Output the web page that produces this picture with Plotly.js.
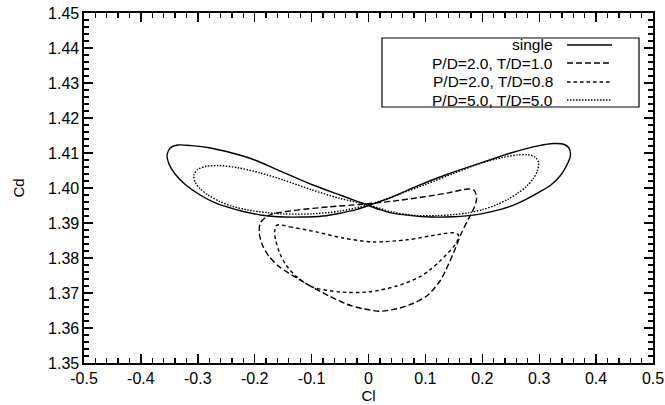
<!DOCTYPE html>
<html>
<head>
<meta charset="utf-8">
<script src="https://cdn.plot.ly/plotly-3.0.1.min.js"></script>
<style>html,body{margin:0;padding:0;background:#fff;}#chart{width:665px;height:405px;}</style>
</head>
<body>
<div id="chart"></div>
<script>
// Series names (legend order)
const seriesNames = ["single", "P/D=2.0, T/D=1.0", "P/D=2.0, T/D=0.8", "P/D=5.0, T/D=5.0"];

// single (solid)
const singleCl = [0.00, 0.04, 0.08, 0.14, 0.20, 0.25, 0.30, 0.325, 0.343, 0.352, 0.355, 0.350, 0.337, 0.320, 0.300, 0.275, 0.250, 0.220, 0.190, 0.150, 0.110, 0.075, 0.040, 0.020, 0.000, -0.020, -0.050, -0.100, -0.160, -0.200, -0.240, -0.280, -0.310, -0.335, -0.348, -0.354, -0.351, -0.340, -0.322, -0.296, -0.270, -0.249, -0.220, -0.190, -0.160, -0.120, -0.080, -0.050, -0.020, 0.000];
const singleCd = [1.3950, 1.3973, 1.4002, 1.4040, 1.4073, 1.4100, 1.4121, 1.4127, 1.4125, 1.4115, 1.4095, 1.4070, 1.4035, 1.4008, 1.3988, 1.3966, 1.3948, 1.3934, 1.3924, 1.3918, 1.3917, 1.3921, 1.3929, 1.3938, 1.3950, 1.3962, 1.3980, 1.4010, 1.4052, 1.4080, 1.4100, 1.4115, 1.4121, 1.4123, 1.4115, 1.4095, 1.4070, 1.4040, 1.4010, 1.3980, 1.3958, 1.3946, 1.3933, 1.3923, 1.3918, 1.3917, 1.3920, 1.3928, 1.3939, 1.3950];

// P/D=2.0, T/D=1.0 (long dash)
const pd2td10Cl = [-0.175, -0.130, -0.070, -0.015, 0.040, 0.090, 0.140, 0.175, 0.186, 0.190, 0.186, 0.175, 0.163, 0.152, 0.140, 0.126, 0.103, 0.078, 0.050, 0.020, -0.010, -0.038, -0.070, -0.100, -0.125, -0.156, -0.175, -0.186, -0.192, -0.190, -0.175];
const pd2td10Cd = [1.3922, 1.3936, 1.3946, 1.3953, 1.3962, 1.3973, 1.3986, 1.3997, 1.3993, 1.3970, 1.3945, 1.3910, 1.3870, 1.3825, 1.3780, 1.3735, 1.3692, 1.3670, 1.3655, 1.3648, 1.3655, 1.3668, 1.3692, 1.3718, 1.3742, 1.3774, 1.3805, 1.3835, 1.3870, 1.3900, 1.3922];

// P/D=2.0, T/D=0.8 (short dash)
const pd2td08Cl = [-0.161, -0.138, -0.090, -0.045, 0.008, 0.068, 0.126, 0.150, 0.158, 0.155, 0.149, 0.126, 0.108, 0.090, 0.050, 0.000, -0.050, -0.098, -0.126, -0.145, -0.156, -0.163, -0.165, -0.161];
const pd2td08Cd = [1.3894, 1.3889, 1.3874, 1.3857, 1.3846, 1.3852, 1.3868, 1.3872, 1.3866, 1.3845, 1.3831, 1.3792, 1.3766, 1.3746, 1.3720, 1.3703, 1.3703, 1.3717, 1.3746, 1.3780, 1.3814, 1.3850, 1.3875, 1.3894];

// P/D=5.0, T/D=5.0 (dotted)
const pd5td5Cl = [0.000, 0.050, 0.100, 0.150, 0.200, 0.235, 0.260, 0.280, 0.293, 0.299, 0.297, 0.290, 0.278, 0.262, 0.245, 0.225, 0.200, 0.175, 0.150, 0.120, 0.080, 0.040, 0.000, -0.050, -0.100, -0.150, -0.190, -0.230, -0.262, -0.285, -0.300, -0.307, -0.305, -0.296, -0.282, -0.262, -0.240, -0.212, -0.180, -0.150, -0.100, -0.050, 0.000];
const pd5td5Cd = [1.3952, 1.3980, 1.4010, 1.4042, 1.4072, 1.4087, 1.4094, 1.4095, 1.4088, 1.4072, 1.4050, 1.4028, 1.4005, 1.3985, 1.3968, 1.3952, 1.3938, 1.3929, 1.3924, 1.3921, 1.3922, 1.3932, 1.3952, 1.3970, 1.3995, 1.4023, 1.4043, 1.4058, 1.4064, 1.4062, 1.4053, 1.4037, 1.4018, 1.3998, 1.3980, 1.3962, 1.3948, 1.3937, 1.3930, 1.3926, 1.3926, 1.3934, 1.3952];

// tick values
const xTicks = [-0.5, -0.4, -0.3, -0.2, -0.1, 0, 0.1, 0.2, 0.3, 0.4, 0.5];
const xTickText = ["-0.5", "-0.4", "-0.3", "-0.2", "-0.1", "0", "0.1", "0.2", "0.3", "0.4", "0.5"];
const yTicks = [1.35, 1.36, 1.37, 1.38, 1.39, 1.40, 1.41, 1.42, 1.43, 1.44, 1.45];
const yTickText = ["1.35", "1.36", "1.37", "1.38", "1.39", "1.40", "1.41", "1.42", "1.43", "1.44", "1.45"];

const dashes = ["solid", "6px,3px", "3.5px,3px", "1.5px,1.5px"];
const xs = [singleCl, pd2td10Cl, pd2td08Cl, pd5td5Cl];
const ys = [singleCd, pd2td10Cd, pd2td08Cd, pd5td5Cd];

const FONT = "'Liberation Sans', Arial, Helvetica, sans-serif";

const traces = seriesNames.map((n, i) => ({
  x: xs[i], y: ys[i], type: "scatter", mode: "lines", name: n,
  line: {color: "#000", width: 1.4, dash: dashes[i], shape: "spline", smoothing: 0.8},
  showlegend: false, hoverinfo: "skip"
}));

// custom legend (text left of line sample, inside a box)
const shapes = [{type: "rect", xref: "paper", yref: "paper", x0: 0.5237, x1: 0.9754, y0: 0.7314, y1: 0.9286,
  line: {color: "#000", width: 1.2}, fillcolor: "#fff", layer: "above"}];
const annotations = [];
const rowY = [0.9086, 0.8571, 0.8029, 0.7514];
seriesNames.forEach((n, i) => {
  annotations.push({xref: "paper", yref: "paper", x: 0.8278, y: rowY[i], xanchor: "right", yanchor: "middle",
    text: n, showarrow: false, font: {family: FONT, size: 15.5, color: "#000"}});
  shapes.push({type: "line", xref: "paper", yref: "paper", x0: 0.8489, x1: 0.9279, y0: rowY[i], y1: rowY[i],
    line: {color: "#000", width: 1.4, dash: dashes[i]}, layer: "above"});
});

const axisCommon = {
  showgrid: false, zeroline: false, showline: true, linecolor: "#000", linewidth: 1.6,
  mirror: "allticks", ticks: "inside", ticklen: 9, tickwidth: 1.4, tickcolor: "#000",
  tickfont: {family: FONT, size: 16, color: "#000"}, tickmode: "array", automargin: false
};

const layout = {
  width: 665, height: 405,
  margin: {l: 84, r: 12, t: 13, b: 42},
  paper_bgcolor: "#fff", plot_bgcolor: "#fff",
  font: {family: FONT, color: "#000"},
  xaxis: Object.assign({}, axisCommon, {
    range: [-0.5, 0.5], tickvals: xTicks, ticktext: xTickText,
    minor: {ticks: "inside", ticklen: 5, tickwidth: 1.3, tickcolor: "#000", dtick: 0.02, showgrid: false},
    title: {text: "Cl", font: {family: FONT, size: 15, color: "#000"}, standoff: 0}
  }),
  yaxis: Object.assign({}, axisCommon, {
    range: [1.35, 1.45], tickvals: yTicks, ticktext: yTickText,
    minor: {ticks: "inside", ticklen: 5, tickwidth: 1.3, tickcolor: "#000", dtick: 0.002, showgrid: false},
    title: {text: "Cd", font: {family: FONT, size: 15, color: "#000"}, standoff: 20}
  }),
  shapes: shapes, annotations: annotations, showlegend: false
};

Plotly.newPlot("chart", traces, layout, {displayModeBar: false, staticPlot: true});
</script>
</body>
</html>
